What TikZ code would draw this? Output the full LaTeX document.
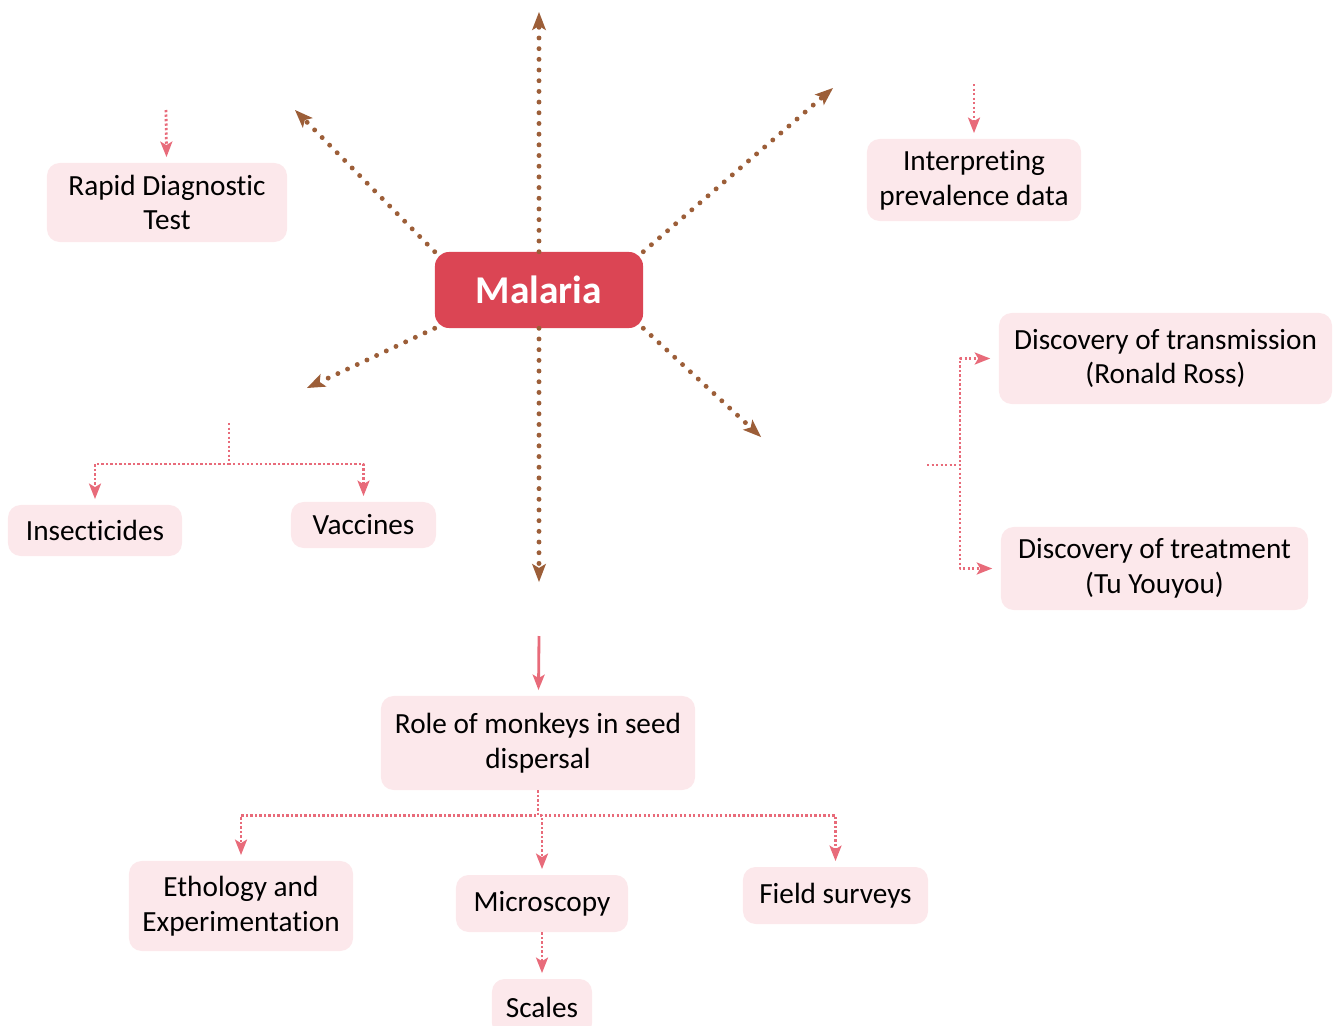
\documentclass[tikz,border=0pt]{standalone}
\usepackage{fontspec}
\setmainfont{Carlito}[Ligatures=NoCommon]
\usetikzlibrary{arrows.meta}
\definecolor{dc4656}{rgb}{0.86,0.27,0.33}
\definecolor{fde8eb}{rgb}{0.99,0.91,0.92}
\definecolor{e86a7a}{rgb}{0.91,0.42,0.48}
\definecolor{9b5f37}{rgb}{0.61,0.37,0.22}

\begin{document}
\begin{tikzpicture}[line cap=round,line join=round,x=0.025cm,y=-0.025cm,
  box/.style={fill=fde8eb,rounded corners=9pt,align=center,font=\fontsize{20.8}{24.8}\selectfont,inner sep=0pt},
  hub/.style={fill=dc4656,rounded corners=10pt,text=white,font=\fontsize{28}{30}\selectfont\bfseries,minimum width=5.2cm,minimum height=1.9cm},
  brarrow/.style={draw=9b5f37,line width=3.5pt,dash pattern=on 0pt off 7.6pt,-{Stealth[length=13pt,width=10pt,inset=3pt,fill=9b5f37,line width=0pt]}},
  pkarrow/.style={draw=e86a7a,line width=2pt,line cap=butt,dash pattern=on 1.6pt off 1.6pt,-{Stealth[length=11pt,width=8.5pt,inset=2.5pt,sep=0pt]},shorten >=4pt}]
\useasboundingbox (0,0) rectangle (1336,1026);
% hub
\node[hub] (malaria) at (539,290) {Malaria};
% free ends
\coordinate (up) at (539,12);
\coordinate (down) at (539,582);
\coordinate (ul) at (295,110);
\coordinate (ur) at (833,88);
\coordinate (ll) at (307,388);
\coordinate (lr) at (761,437);
\draw[brarrow] (malaria.north) -- (up);
\draw[brarrow] (malaria.south) -- (down);
\draw[brarrow] (malaria.north west) -- (ul);
\draw[brarrow] (malaria.north east) -- (ur);
\draw[brarrow] (malaria.south west) -- (ll);
\draw[brarrow] (malaria.south east) -- (lr);
% boxes
\node[box,minimum width=6cm,minimum height=1.975cm] (rapid) at (167,202.5) {Rapid Diagnostic\\Test};
\node[box,minimum width=5.35cm,minimum height=2.05cm] (interp) at (974,180) {Interpret\kern0pt ing\\prevalence data};
\node[box,minimum width=8.325cm,minimum height=2.275cm] (ross) at (1165.5,358.5) {Discovery of transmission\\(Ronald Ross)};
\node[box,minimum width=7.675cm,minimum height=2.075cm] (tu) at (1154.5,568.5) {Discovery of treatment\\(Tu Youyou)};
\node[box,minimum width=4.35cm,minimum height=1.275cm] (insect) at (95,530.5) {Insecticides};
\node[box,minimum width=3.625cm,minimum height=1.15cm] (vacc) at (363.5,525) {Vaccines};
\node[box,minimum width=7.85cm,minimum height=2.35cm] (role) at (538,743) {Role of monkeys in seed\\dispersal};
\node[box,minimum width=5.6cm,minimum height=2.25cm] (etho) at (241,906) {Ethology and\\Experimentation};
\node[box,minimum width=4.3cm,minimum height=1.425cm] (micro) at (542,903.5) {Microscopy};
\node[box,minimum width=4.625cm,minimum height=1.425cm] (field) at (835.5,895.5) {Field surveys};
\node[box,minimum width=2.5cm,minimum height=1.425cm] (scales) at (542,1007.5) {Scales};
% pink connectors
\coordinate (rapidin) at (166,110);
\coordinate (interpin) at (974,84);
\coordinate (brk) at (927,465);
\coordinate (ctrl) at (229,423);
\coordinate (rolein) at (539,636);
\draw[pkarrow] (rapidin) -- (rapid);
\draw[pkarrow] (interpin) -- (interp);
\draw[pkarrow,shorten >=6pt] (brk) -- ++(33,0) |- (ross.west);
\draw[pkarrow,shorten >=6pt] (brk) -- ++(33,0) |- (tu.west);
\draw[pkarrow] (ctrl) -- ++(0,41) -| (insect.north);
\draw[pkarrow] (ctrl) -- ++(0,41) -| (vacc.north);
\draw[pkarrow,dash pattern=] (rolein) -- (role);
\draw[pkarrow] (role.south) -- ++(0,25) -| (etho.north);
\draw[pkarrow] (role.south) -- ++(0,25) -| (micro.north);
\draw[pkarrow] (role.south) -- ++(0,25) -| (field.north);
\draw[pkarrow] (micro) -- (scales);
\end{tikzpicture}
\end{document}
